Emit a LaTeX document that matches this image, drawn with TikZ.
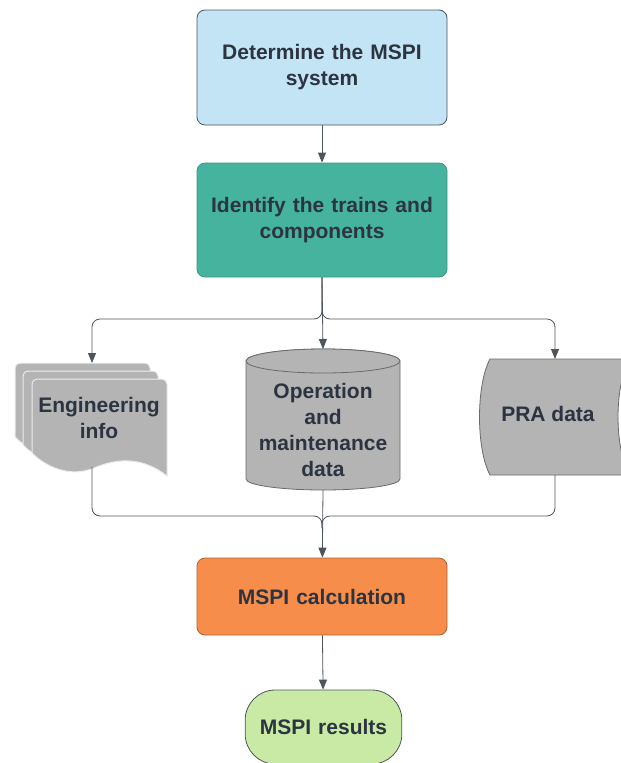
\documentclass[tikz,border=0pt]{standalone}
\usepackage{fontspec}
\setmainfont{Liberation Sans}
\usepackage{xcolor}
\usetikzlibrary{arrows.meta,positioning}
\definecolor{ink}{HTML}{2B3440}
\definecolor{edge}{HTML}{4E545B}
\definecolor{skyfill}{HTML}{C3E4F4}
\definecolor{tealfill}{HTML}{45B39D}
\definecolor{orangefill}{HTML}{F68D4A}
\definecolor{limefill}{HTML}{C8EAA5}
\definecolor{datagray}{HTML}{B4B4B4}
\definecolor{datedge}{HTML}{6A6A6A}

\begin{document}
\begin{tikzpicture}[
    x=1pt,y=-1pt,
    font=\fontsize{21}{26}\selectfont\bfseries,
    text=ink,
    box/.style={draw=edge,line width=0.8pt,rounded corners=8pt,align=center,
      minimum width=250pt,text width=235pt},
    datasheet/.style={fill=datagray,draw=white!85!gray,line width=1pt},
    datashape/.style={fill=datagray,draw=datedge,line width=0.8pt},
    label/.style={align=center,inner sep=0pt},
    link/.style={draw=edge,line width=0.8pt,rounded corners=8pt},
    arrow/.style={link,-{Triangle[length=10pt,width=8pt]}}
  ]
    \useasboundingbox (0,0) rectangle (621,763);
    \clip (0,0) rectangle (621,763);

    % process boxes
    \node[box,fill=skyfill,minimum height=115pt] (sys) at (322,67.5) {Determine the MSPI\\system};
    \node[box,fill=tealfill,draw=tealfill!85!black,minimum height=114pt] (trains) at (322,220) {Identify the trains and\\components};
    \node[box,fill=orangefill,draw=orangefill!70!black,minimum height=77pt] (calc) at (322,596.5) {MSPI calculation};
    \node[box,fill=limefill,rounded corners=30pt,minimum width=155pt,text width=150pt,minimum height=74pt] (res) at (323.5,727) {MSPI results};

    % stacked documents
    \foreach \x/\y in {15/363,23/371,32/379}
      \draw[datasheet] (\x,\y+74) [rounded corners=5pt] -- (\x,\y) -- (\x+135,\y) [sharp corners] -- (\x+135,\y+97)
        .. controls (\x+112,\y+79) and (\x+88,\y+78) .. (\x+62,\y+89)
        .. controls (\x+38,\y+99) and (\x+14,\y+88) .. cycle;
    \node[label] (eng) at (99,418) {Engineering\\info};
    \coordinate (engtop) at (92,363);
    \coordinate (engbot) at (92,467);

    % cylinder
    \draw[datashape] (246,361) -- (246,479) arc[start angle=180,end angle=360,x radius=77pt,y radius=11pt]
      -- (400,361) arc[start angle=0,end angle=180,x radius=77pt,y radius=12pt] -- cycle;
    \draw[datashape] (323,361) ellipse[x radius=77pt,y radius=12pt];
    \node[label] (omd) at (323,430) {Operation\\and\\maintenance\\data};
    \coordinate (omdtop) at (323,349);
    \coordinate (omdbot) at (323,490);

    % stored data
    \draw[datashape] (490,359) -- (630,359) .. controls (614,385) and (614,449) .. (630,475)
      -- (490,475) .. controls (476,449) and (476,385) .. cycle;
    \node[label] (pra) at (548,414) {PRA data};
    \coordinate (pratop) at (555,359);
    \coordinate (prabot) at (555,475);

    \coordinate (split) at (322,319);
    \coordinate (merge) at (322,516);

    \draw[arrow] (sys) -- (trains);
    \draw[arrow] (trains.south) -- (split) -| (engtop);
    \draw[arrow] (trains.south) -- (omdtop);
    \draw[arrow] (trains.south) -- (split) -| (pratop);
    \draw[link] (engbot) |- (merge) -- ++(0,12);
    \draw[link] (prabot) |- (merge) -- ++(0,12);
    \draw[arrow] (omdbot) -- (calc);
    \draw[arrow] (calc) -- (res);
  \end{tikzpicture}
\end{document}
